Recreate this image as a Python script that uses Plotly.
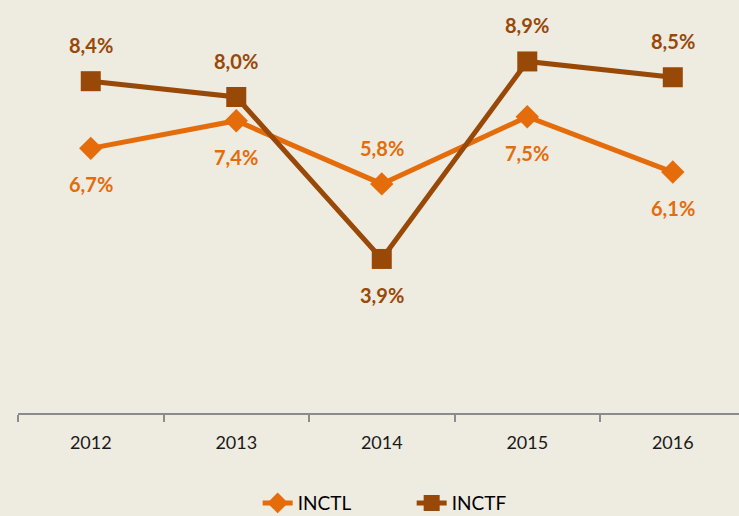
import plotly.graph_objects as go

years = ["2012", "2013", "2014", "2015", "2016"]
inctl = [6.7, 7.4, 5.8, 7.5, 6.1]
inctf = [8.4, 8.0, 3.9, 8.9, 8.5]
inctl_pos = ["below", "below", "above", "below", "below"]
inctf_pos = ["above", "above", "below", "above", "above"]

C_L = "#E46C0A"
C_F = "#984807"
BG = "#EEEBE0"
FONT = "Lato, 'Open Sans', sans-serif"

fig = go.Figure()
fig.add_trace(go.Scatter(x=years, y=inctl, name="INCTL", mode="lines+markers",
                         line=dict(color=C_L, width=5),
                         marker=dict(symbol="diamond", size=18, color=C_L)))
fig.add_trace(go.Scatter(x=years, y=inctf, name="INCTF", mode="lines+markers",
                         line=dict(color=C_F, width=5),
                         marker=dict(symbol="square", size=20, color=C_F)))

def fmt(v):
    return f"{v:.1f}".replace(".", ",") + "%"

for vals, pos, col in [(inctl, inctl_pos, C_L), (inctf, inctf_pos, C_F)]:
    for i, (v, p) in enumerate(zip(vals, pos)):
        fig.add_annotation(x=i, y=v, xref="x", yref="y", text=f"<b>{fmt(v)}</b>",
                           showarrow=False,
                           yshift=36 if p == "above" else -36,
                           font=dict(family=FONT, size=20, color=col))

fig.update_layout(
    width=739, height=516,
    paper_bgcolor=BG, plot_bgcolor=BG,
    margin=dict(l=18, r=0, t=18, b=103, autoexpand=False),
    showlegend=True,
    legend=dict(orientation="h", x=0.546, xanchor="center", y=-0.228, yanchor="middle",
                font=dict(family=FONT, size=19, color="#000000"),
                entrywidth=109, entrywidthmode="pixels",
                bgcolor="rgba(0,0,0,0)"),
    font=dict(family=FONT),
)
fig.update_xaxes(type="category", range=[-0.5, 4.455], tickson="boundaries",
                 ticks="outside", ticklen=7, tickwidth=1.5, tickcolor="#8C8C8C",
                 showline=True, linecolor="#8C8C8C", linewidth=1.5,
                 showgrid=False, zeroline=False, ticklabelstandoff=13,
                 tickfont=dict(family=FONT, size=18, color="#1A1A1A"))
fig.update_yaxes(range=[0, 10], visible=False, showgrid=False, zeroline=False)

fig.write_html("out.html", config={"displayModeBar": False},
               post_script="document.body.style.margin='0';")
